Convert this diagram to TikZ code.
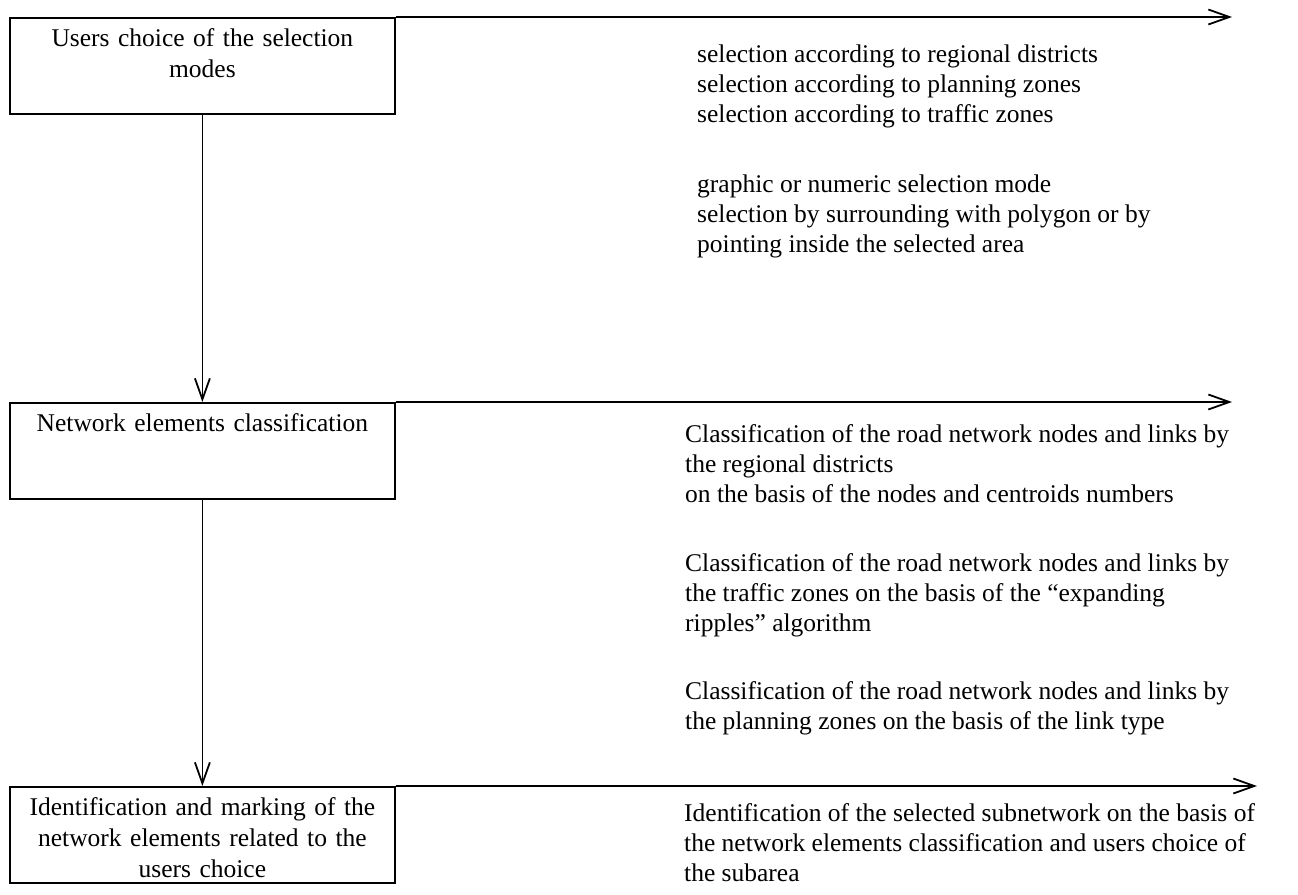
\documentclass[tikz,border=0pt]{standalone}
\usepackage{fontspec}
\setmainfont{Liberation Serif}
\usetikzlibrary{arrows.meta}

\begin{document}
\begin{tikzpicture}[x=1pt, y=-1pt,
  every node/.style={font=\fontsize{25.5}{30}\selectfont},
  stage/.style={draw, line width=1.8pt, anchor=north west, minimum width=385pt,
    minimum height=96pt, inner xsep=4pt, inner ysep=0pt, text width=377pt,
    align=center, text height=29pt, text depth=67pt,
    font=\fontsize{25.5}{31}\selectfont},
  note/.style={anchor=base west, inner sep=0pt, align=left},
  flow/.style={line width=1.8pt, -{Straight Barb[length=21pt, width=15pt, line width=1.8pt]}}]

 \useasboundingbox (0,0) rectangle (1298,894);

 %%%%%%%%%% Ends of the arrows %%%%%%%%%%
 \coordinate (e1) at (1232,17);
 \coordinate (e2) at (1232,402);
 \coordinate (e3) at (1257,786);

 %%%%%%%%%% The steps %%%%%%%%%%
 \node[stage] (b1) at (9,17) {Users choice of the selection\\modes};
 \node[stage] (b2) at (9,402) {Network elements classification};
 \node[stage] (b3) at (9,786) {Identification and marking of the\\network elements related to the\\users choice};

 %%%%%%%%%% Arrows %%%%%%%%%%
 \draw[flow] (b1.south) -- (b2.north);
 \draw[flow] (b2.south) -- (b3.north);
 \draw[flow] (b1.north east) -- (e1);
 \draw[flow] (b2.north east) -- (e2);
 \draw[flow] (b3.north east) -- (e3);

 %%%%%%%%%% Descriptions (placed by their last line) %%%%%%%%%%
 \node[note] (sel1) at (697,122) {selection according to regional districts\\selection according to planning zones\\selection according to traffic zones};
 \node[note] (sel2) at (697,252) {graphic or numeric selection mode\\selection by surrounding with polygon or by\\pointing inside the selected area};

 \node[note] (cls1) at (685,502) {Classification of the road network nodes and links by\\the regional districts\\on the basis of the nodes and centroids numbers};
 \node[note] (cls2) at (685,631) {Classification of the road network nodes and links by\\the traffic zones on the basis of the ``expanding\\ripples'' algorithm};
 \node[note] (cls3) at (685,729) {Classification of the road network nodes and links by\\the planning zones on the basis of the link type};

 \node[note] (ident) at (684,881) {Identification of the selected subnetwork on the basis of\\the network elements classification and users choice of\\the subarea};

\end{tikzpicture}
\end{document}
